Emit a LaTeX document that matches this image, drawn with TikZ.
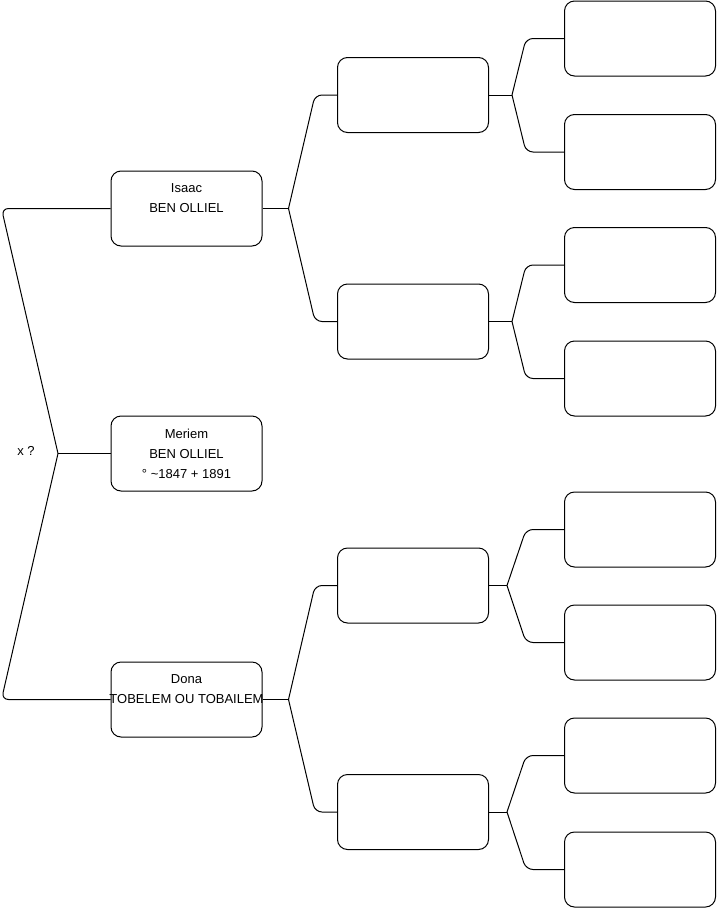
\documentclass[tikz,border=0pt]{standalone}
\usepackage{fontspec}
\setmainfont{Liberation Sans}
\begin{document}
\begin{tikzpicture}[x=1pt, y=-1pt,
  person/.style={rectangle, draw, line width=1pt, rounded corners=10pt,
                 minimum width=151pt, minimum height=75pt, inner sep=0pt,
                 align=center, font=\fontsize{13pt}{20pt}\selectfont},
  link/.style={line width=1pt},
  elbow/.style={link, rounded corners=7pt}
]
  \useasboundingbox (0,0) rectangle (716,908);

  % Subject and parents
  \node[person] (meriem) at (186.5,453.5)
    {Meriem\\BEN OLLIEL\\° \textasciitilde1847 + 1891};
  \node[person] (isaac) at (186.5,208.5) {Isaac\\BEN OLLIEL\\\mbox{}};
  \node[person] (dona) at (186.5,699.5)
    {Dona\\\makebox[0pt]{TOBELEM OU TOBAILEM}\\\mbox{}};
  \node[font=\fontsize{13pt}{16pt}\selectfont] (xq) at (26,451) {x ?};

  \coordinate (f0) at (58,453.5);
  \draw[elbow] (isaac.west) -- (1.5,208.5) -- (f0);
  \draw[elbow] (f0) -- (1.5,699.5) -- (dona.west);
  \draw[link] (f0) -- (meriem.west);

  % Grandparents
  \node[person] (p1) at (413,95) {};
  \node[person] (p2) at (413,321.5) {};
  \node[person] (p3) at (413,585.5) {};
  \node[person] (p4) at (413,812) {};

  \foreach \c/\a/\b in {isaac/p1/p2, dona/p3/p4} {
    \coordinate (f\c) at ([xshift=26pt]\c.east);
    \draw[link] (\c.east) -- (f\c);
    \draw[elbow] (f\c) -- ([xshift=-22pt]\a.west) -- (\a.west);
    \draw[elbow] (f\c) -- ([xshift=-22pt]\b.west) -- (\b.west);
  }

  % Great-grandparents
  \foreach \i/\y/\ya/\yb/\fx in {1/95/38.5/152/512, 2/321.5/265/378.5/512,
                                3/585.5/529.5/642.5/507, 4/812/755.5/869.5/507} {
    \node[person] (g\i a) at (640,\ya) {};
    \node[person] (g\i b) at (640,\yb) {};
    \coordinate (fp\i) at (\fx,\y);
    \draw[link] (p\i.east) -- (fp\i);
    \draw[elbow] (fp\i) -- ([xshift=-38pt]g\i a.west) -- (g\i a.west);
    \draw[elbow] (fp\i) -- ([xshift=-38pt]g\i b.west) -- (g\i b.west);
  }
\end{tikzpicture}
\end{document}
